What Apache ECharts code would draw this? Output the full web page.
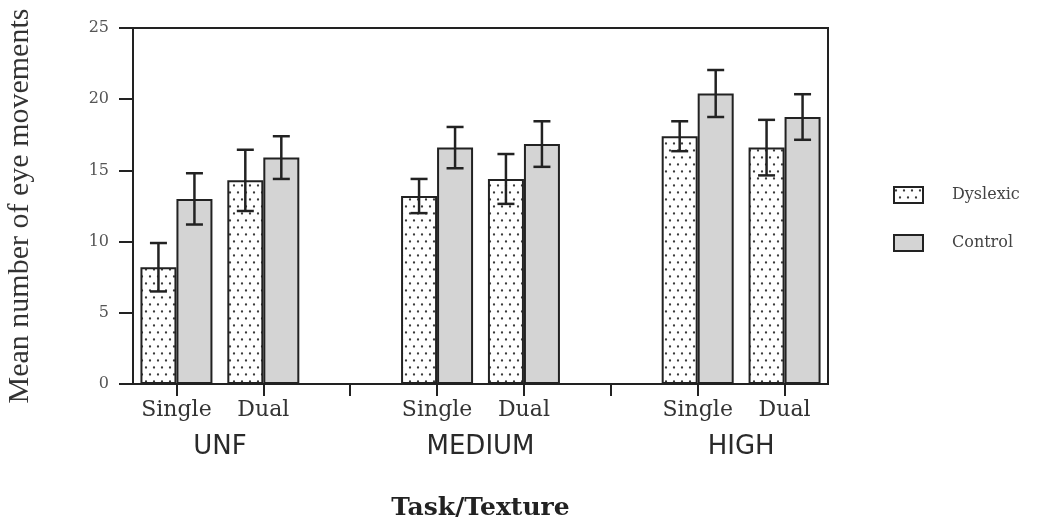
<!DOCTYPE html>
<html>
<head>
<meta charset="utf-8">
<script src="https://cdn.jsdelivr.net/npm/echarts@6/dist/echarts.min.js"></script>
<style>
html,body{margin:0;padding:0;background:#fff;}
#chart{width:1044px;height:521px;}
</style>
</head>
<body>
<div id="chart"></div>
<script>
// ---- data ----
const taskLabels = ['Single', 'Dual', '', 'Single', 'Dual', '', 'Single', 'Dual'];
const groupLabels = ['UNF', 'MEDIUM', 'HIGH'];
const groupCenters = [0.5, 3.5, 6.5];
const seriesNames = ['Dyslexic', 'Control'];
const dyslexicMean = [8.2, 14.3, '-', 13.2, 14.4, '-', 17.4, 16.6];
const dyslexicErr  = [1.7, 2.15, '-', 1.2, 1.75, '-', 1.05, 1.95];
const controlMean  = [13.0, 15.9, '-', 16.6, 16.85, '-', 20.4, 18.75];
const controlErr   = [1.8, 1.5, '-', 1.45, 1.6, '-', 1.65, 1.6];
const yMin = 0, yMax = 25, yStep = 5;

// dotted pattern for Dyslexic bars
function dotPattern() {
  const c = document.createElement('canvas');
  c.width = 8; c.height = 14;
  const g = c.getContext('2d');
  g.fillStyle = '#ffffff';
  g.fillRect(0, 0, 8, 14);
  g.fillStyle = '#3a3a3a';
  g.beginPath(); g.arc(2, 3.5, 1.15, 0, Math.PI * 2); g.fill();
  g.beginPath(); g.arc(6, 10.5, 1.15, 0, Math.PI * 2); g.fill();
  return c;
}
const dots = dotPattern();

function errData(mean, err) {
  const out = [];
  mean.forEach((m, i) => { if (m !== '-') out.push([i, m, err[i]]); });
  return out;
}

function errRender(offset) {
  return function (params, api) {
    const idx = api.value(0), m = api.value(1), e = api.value(2);
    const top = api.coord([idx, m + e]);
    const bot = api.coord([idx, m - e]);
    const x = top[0] + offset;
    const cap = 8.5;
    const st = { stroke: '#222', lineWidth: 2.5 };
    return {
      type: 'group',
      children: [
        { type: 'line', shape: { x1: x, y1: top[1], x2: x, y2: bot[1] }, style: st },
        { type: 'line', shape: { x1: x - cap, y1: top[1], x2: x + cap, y2: top[1] }, style: st },
        { type: 'line', shape: { x1: x - cap, y1: bot[1], x2: x + cap, y2: bot[1] }, style: st }
      ]
    };
  };
}

const chart = echarts.init(document.getElementById('chart'), null, { renderer: 'canvas' });
const serif = 'DejaVu Serif';
const option = {
  backgroundColor: '#ffffff',
  animation: false,
  grid: { left: 133, right: 216, top: 28, bottom: 137, show: true, borderColor: '#222', borderWidth: 2, backgroundColor: 'transparent', containLabel: false, outerBoundsMode: 'none' },
  legend: {
    orient: 'vertical', left: 888, top: 181,
    data: seriesNames,
    itemWidth: 29, itemHeight: 16, itemGap: 30,
    icon: 'rect',
    textStyle: { fontFamily: serif, fontSize: 16, color: '#444', padding: [0, 0, 0, 24] }
  },
  xAxis: [
    {
      type: 'category', data: taskLabels, position: 'bottom',
      axisLine: { show: true, onZero: false, lineStyle: { color: '#222', width: 2 } },
      axisTick: { show: true, alignWithLabel: true, interval: 0, length: 12, lineStyle: { color: '#222', width: 2 } },
      axisLabel: { interval: 0, fontFamily: serif, fontSize: 22, color: '#333', margin: 15 },
      name: 'Task/Texture', nameLocation: 'middle', nameGap: 112,
      nameTextStyle: { fontFamily: serif, fontWeight: 'bold', fontSize: 25, color: '#222' }
    },
    {
      type: 'value', min: -0.5, max: 7.5, position: 'bottom',
      axisLine: { show: false, onZero: false }, axisTick: { show: false }, splitLine: { show: false },
      axisLabel: {
        customValues: groupCenters,
        formatter: function (v) { const k = groupCenters.indexOf(v); return k >= 0 ? groupLabels[k] : ''; },
        fontFamily: 'DejaVu Sans', fontSize: 26, color: '#2a2a2a', margin: 50
      }
    }
  ],
  yAxis: {
    type: 'value', min: yMin, max: yMax, interval: yStep,
    axisLine: { show: true, onZero: false, lineStyle: { color: '#222', width: 2 } },
    axisTick: { show: true, length: 14, lineStyle: { color: '#222', width: 2 } },
    splitLine: { show: false },
    axisLabel: { fontFamily: serif, fontSize: 16, color: '#555', margin: 24 },
    name: 'Mean number of eye movements', nameLocation: 'middle', nameRotate: 90, nameGap: 98,
    nameTextStyle: { fontFamily: 'Liberation Serif', fontSize: 30, color: '#333' }
  },
  series: [
    {
      name: 'Dyslexic', type: 'bar', data: dyslexicMean, barWidth: 36, barGap: '0%',
      itemStyle: { color: { image: dots, repeat: 'repeat' }, borderColor: '#222', borderWidth: 2 }
    },
    {
      name: 'Control', type: 'bar', data: controlMean, barWidth: 36, barGap: '0%',
      itemStyle: { color: '#d4d4d4', borderColor: '#222', borderWidth: 2 }
    },
    {
      name: 'DyslexicErr', type: 'custom', data: errData(dyslexicMean, dyslexicErr),
      renderItem: errRender(-18), encode: { x: 0, y: 1 }, z: 5
    },
    {
      name: 'ControlErr', type: 'custom', data: errData(controlMean, controlErr),
      renderItem: errRender(18), encode: { x: 0, y: 1 }, z: 5
    }
  ]
};
chart.setOption(option);
</script>
</body>
</html>
